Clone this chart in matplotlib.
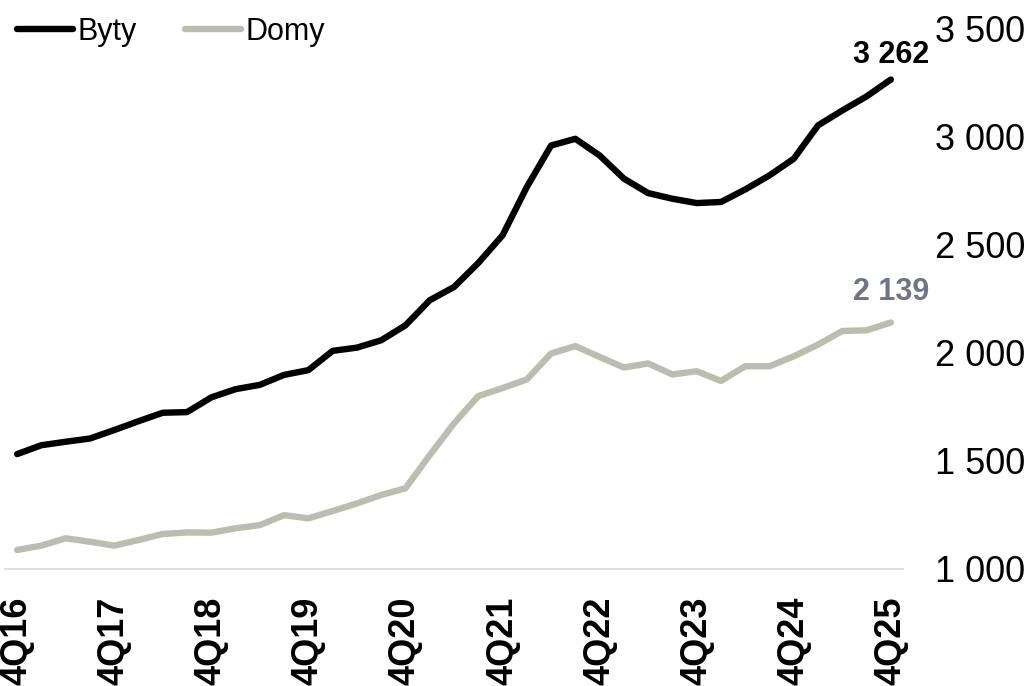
import matplotlib
matplotlib.use("Agg")
import matplotlib.pyplot as plt
from matplotlib.ticker import FuncFormatter

plt.rcParams["font.family"] = ["Liberation Sans", "DejaVu Sans"]

# dane kwartalne 4Q16 - 4Q25
byty = [1531, 1572, 1588, 1603, 1642, 1683, 1722, 1725, 1793, 1831,
        1851, 1897, 1919, 2008, 2023, 2057, 2126, 2242, 2303, 2414,
        2542, 2765, 2957, 2988, 2911, 2804, 2737, 2711, 2691, 2696,
        2754, 2819, 2896, 3050, 3119, 3184, 3262]
domy = [1088, 1108, 1142, 1126, 1108, 1134, 1162, 1169, 1168, 1188,
        1203, 1249, 1234, 1268, 1303, 1342, 1373, 1526, 1673, 1799,
        1836, 1876, 1996, 2030, 1980, 1931, 1950, 1899, 1914, 1869,
        1937, 1937, 1983, 2037, 2100, 2103, 2139]
tick_labels = ["4Q16", "4Q17", "4Q18", "4Q19", "4Q20",
               "4Q21", "4Q22", "4Q23", "4Q24", "4Q25"]

c_byty = "#000000"
c_domy = "#bbbdb1"
c_domy_label = "#6e7587"

fig = plt.figure(figsize=(10.33, 6.86), dpi=100)
ax = fig.add_axes([5 / 1033, 1 - 569 / 686, 898 / 1033, 541 / 686])

x = list(range(len(byty)))
ax.plot(x, byty, color=c_byty, lw=4.6, solid_capstyle="round", label="Byty")
ax.plot(x, domy, color=c_domy, lw=4.6, solid_capstyle="round", label="Domy")

ax.set_xlim(-0.5, len(byty) - 0.5)
ax.set_ylim(1000, 3500)
ax.set_yticks([1000, 1500, 2000, 2500, 3000, 3500])
ax.yaxis.set_major_formatter(FuncFormatter(lambda v, p: f"{v:,.0f}".replace(",", " ")))
ax.yaxis.tick_right()
ax.tick_params(axis="y", length=0, pad=23, labelsize=26)

ax.set_xticks(x[::4])
ax.set_xticklabels(tick_labels, rotation=90, fontweight="bold", fontsize=26)
ax.tick_params(axis="x", length=0, pad=20)

for s in ["top", "left", "right"]:
    ax.spines[s].set_visible(False)
ax.spines["bottom"].set_color("#d9d9d9")
ax.spines["bottom"].set_linewidth(1.2)

# etykiety ostatnich wartości
ax.annotate(f"{byty[-1]:,}".replace(",", " "), (x[-1], byty[-1]),
            xytext=(0, 7), textcoords="offset points", ha="center", va="bottom",
            fontsize=22, fontweight="bold", color=c_byty)
ax.annotate(f"{domy[-1]:,}".replace(",", " "), (x[-1], domy[-1]),
            xytext=(0, 11), textcoords="offset points", ha="center", va="bottom",
            fontsize=22, fontweight="bold", color=c_domy_label)

ax.legend(loc="upper left", bbox_to_anchor=(17 / 1033, 1 - 17 / 686),
          bbox_transform=fig.transFigure, ncol=2, frameon=False, fontsize=22,
          borderpad=0, borderaxespad=0, handlelength=1.83, handletextpad=0.15,
          columnspacing=1.57)

plt.savefig("out.png", dpi=100)
